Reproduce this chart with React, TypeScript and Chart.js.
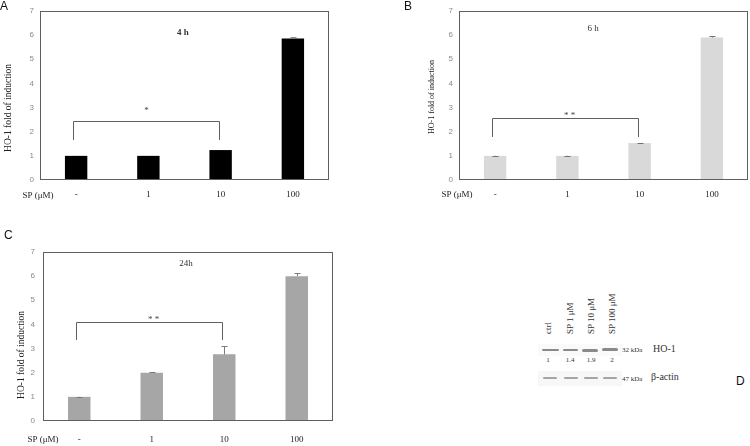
import React, { useEffect, useRef } from 'react';
import { Chart, registerables } from 'chart.js';

Chart.register(...registerables);

// ---------- data ----------
const categories = ['-', '1', '10', '100'];
const xLeadLabel = 'SP (μM)';
const yTitleText = 'HO-1 fold of induction';
const yMin = 0;
const yMax = 7;

const titleA = '4 h';
const valuesA = [1.0, 1.0, 1.24, 5.86];
const errorsA = [0, 0, 0, 0.05];
const sigA = '*';
const bracketA = [2.44, 1.65]; // [top, ends]

const titleB = '6 h';
const valuesB = [1.0, 1.0, 1.53, 5.9];
const errorsB = [0.01, 0.01, 0.02, 0.08];
const sigB = '* *';
const bracketB = [2.57, 1.78];

const titleC = '24h';
const valuesC = [1.0, 2.0, 2.76, 6.0];
const errorsC = [0.01, 0.01, 0.35, 0.13];
const sigC = '* *';
const bracketC = [4.11, 3.35];

const laneLabels = ['ctrl', 'SP 1 μM', 'SP 10 μM', 'SP 100 μM'];
const densities = ['1', '1.4', '1.9', '2'];
const blotTargets = ['HO-1', 'β-actin'];
const blotSizes = ['32 kDa', '47 kDa'];

const SERIF = '"Liberation Serif", "DejaVu Serif", serif';
const SANS = '"Liberation Sans", "DejaVu Sans", sans-serif';

type PanelCfg = {
  key: string;
  left: number;
  top: number;
  width: number;
  height: number;
  padTop: number;
  padRight: number;
  yWidth: number;
  xHeight: number;
  xTickPad: number;
  yTickPad: number;
  color: string;
  errColor: string;
  values: number[];
  errors: number[];
  title: string;
  titleX: number;
  titleY: number;
  titleBold: boolean;
  yTitleX: number;
  yTitleY: number;
  yTitleSize: number;
  leadX: number;
  leadY: number;
  sig: string;
  sigDy: number;
  sigDx: number;
  bracket: number[];
};

const panels: PanelCfg[] = [
  {
    key: 'A', left: 0, top: 0, width: 375, height: 210,
    padTop: 11, padRight: 46, yWidth: 40, xHeight: 30, xTickPad: 9, yTickPad: 6,
    color: '#000000', errColor: '#8a8a8a', values: valuesA, errors: errorsA,
    title: titleA, titleX: 183, titleY: 33, titleBold: true,
    yTitleX: 8, yTitleY: 108, yTitleSize: 9.5, leadX: 38, leadY: 196,
    sig: sigA, sigDy: 13, sigDx: 0, bracket: bracketA,
  },
  {
    key: 'B', left: 375, top: 0, width: 375, height: 210,
    padTop: 11, padRight: 2, yWidth: 84, xHeight: 30, xTickPad: 9, yTickPad: 6,
    color: '#d9d9d9', errColor: '#707070', values: valuesB, errors: errorsB,
    title: titleB, titleX: 218, titleY: 29, titleBold: false,
    yTitleX: 57, yTitleY: 97, yTitleSize: 8, leadX: 82, leadY: 195,
    sig: sigB, sigDy: 5, sigDx: 4, bracket: bracketB,
  },
  {
    key: 'C', left: 0, top: 210, width: 375, height: 236,
    padTop: 42, padRight: 42, yWidth: 43, xHeight: 25, xTickPad: 13, yTickPad: 8,
    color: '#a6a6a6', errColor: '#7a7a7a', values: valuesC, errors: errorsC,
    title: titleC, titleX: 186, titleY: 54, titleBold: false,
    yTitleX: 21, yTitleY: 145, yTitleSize: 9.5, leadX: 43, leadY: 230,
    sig: sigC, sigDy: 5, sigDx: 4, bracket: bracketC,
  },
];

const extrasPlugin = {
  id: 'extras',
  afterDraw(chart: any) {
    const p: PanelCfg = (chart.config as any)._panel;
    if (!p) return;
    const { ctx, chartArea: a, scales } = chart;
    const xs = scales.x;
    const ys = scales.y;
    ctx.save();
    ctx.strokeStyle = '#5f5f5f';
    ctx.lineWidth = 1;
    ctx.strokeRect(Math.round(a.left) + 0.5, Math.round(a.top) + 0.5,
      Math.round(a.right - a.left) - 1, Math.round(a.bottom - a.top) - 1);
    const meta = chart.getDatasetMeta(0);
    ctx.strokeStyle = p.errColor;
    meta.data.forEach((bar: any, i: number) => {
      const e = p.errors[i];
      if (!e) return;
      const base = ys.getPixelForValue(p.values[i]);
      const t = ys.getPixelForValue(p.values[i] + e);
      const cx = Math.round(bar.x) + 0.5;
      ctx.beginPath();
      ctx.moveTo(cx, base);
      ctx.lineTo(cx, Math.round(t) + 0.5);
      ctx.moveTo(cx - 3, Math.round(t) + 0.5);
      ctx.lineTo(cx + 3, Math.round(t) + 0.5);
      ctx.stroke();
    });
    const xl = Math.round(xs.getPixelForValue(0)) - 2.5;
    const xr = Math.round(xs.getPixelForValue(2)) - 1.5;
    const yt = Math.round(ys.getPixelForValue(p.bracket[0])) + 0.5;
    const ye = Math.round(ys.getPixelForValue(p.bracket[1]));
    ctx.strokeStyle = '#5f5f5f';
    ctx.beginPath();
    ctx.moveTo(xl, ye);
    ctx.lineTo(xl, yt);
    ctx.lineTo(xr, yt);
    ctx.lineTo(xr, ye);
    ctx.stroke();
    ctx.fillStyle = '#444';
    ctx.font = `9px ${SERIF}`;
    ctx.textAlign = 'center';
    ctx.textBaseline = 'middle';
    ctx.fillText(p.sig, (xl + xr) / 2 + p.sigDx, yt - p.sigDy + 2);
    ctx.fillStyle = '#333';
    ctx.font = `${p.titleBold ? 'bold ' : ''}9px ${SERIF}`;
    ctx.fillText(p.title, p.titleX, p.titleY);
    ctx.font = `9px ${SERIF}`;
    ctx.fillStyle = '#222';
    ctx.fillText(xLeadLabel, p.leadX, p.leadY);
    ctx.translate(p.yTitleX, p.yTitleY);
    ctx.rotate(-Math.PI / 2);
    ctx.font = `${p.yTitleSize}px ${SERIF}`;
    ctx.fillText(yTitleText, 0, 0);
    ctx.restore();
  },
};

function PanelChart({ p }: { p: PanelCfg }) {
  const ref = useRef<HTMLCanvasElement | null>(null);
  useEffect(() => {
    if (!ref.current) return;
    const chart = new Chart(ref.current, {
      type: 'bar',
      data: {
        labels: categories,
        datasets: [
          {
            data: p.values,
            backgroundColor: p.color,
            borderWidth: 0,
            barPercentage: 0.31,
            categoryPercentage: 1,
          },
        ],
      },
      options: {
        responsive: false,
        animation: false,
        devicePixelRatio: 1,
        layout: { padding: { top: p.padTop, right: p.padRight, left: 0, bottom: 0 } },
        plugins: {
          legend: { display: false },
          tooltip: { enabled: false },
          title: { display: false },
        },
        scales: {
          x: {
            type: 'category',
            grid: { display: false, drawTicks: false },
            border: { display: false },
            ticks: {
              color: '#222',
              font: { family: SERIF, size: 9 },
              padding: p.xTickPad,
              maxRotation: 0,
              autoSkip: false,
            },
            afterFit: (s: any) => { s.height = p.xHeight; },
          },
          y: {
            min: yMin,
            max: yMax,
            grid: { display: false, drawTicks: false },
            border: { display: false },
            ticks: {
              stepSize: 1,
              autoSkip: false,
              color: '#8a8a8a',
              font: { family: SANS, size: 8 },
              padding: p.yTickPad,
            },
            afterFit: (s: any) => { s.width = p.yWidth; },
          },
        },
      },
      plugins: [extrasPlugin],
    } as any);
    (chart.config as any)._panel = p;
    chart.draw();
    return () => chart.destroy();
  }, [p]);
  return (
    <canvas
      ref={ref}
      width={p.width}
      height={p.height}
      style={{ position: 'absolute', left: p.left, top: p.top, width: p.width, height: p.height }}
    />
  );
}

const laneX = [548, 570, 591, 612];
const bandHO = [[542, 559], [563, 578], [582, 598], [602, 618]];
const bandActin = [[543, 557], [564, 578], [584, 598], [603, 617]];

function Blot() {
  const txt = (extra: React.CSSProperties): React.CSSProperties => ({
    position: 'absolute', fontFamily: SERIF, color: '#333', whiteSpace: 'nowrap', lineHeight: '10px', ...extra,
  });
  return (
    <>
      {laneLabels.map((l, i) => (
        <div key={l} style={txt({ left: laneX[i] - 5, top: 334, fontSize: 9, transform: 'rotate(-90deg)', transformOrigin: '0 0' })}>
          {l}
        </div>
      ))}
      <div style={{ position: 'absolute', left: 538, top: 344, width: 84, height: 12, background: '#fafafa' }} />
      <div style={{ position: 'absolute', left: 538, top: 371, width: 84, height: 15, background: '#f7f7f7' }} />
      {bandHO.map((b, i) => (
        <div key={'h' + i} style={{ position: 'absolute', left: b[0], top: 349 - (i === 3 ? 1 : 0), width: b[1] - b[0], height: 2 + (i > 1 ? 1 : 0), background: '#8a8a8a', borderRadius: 2, filter: 'blur(0.6px)' }} />
      ))}
      {bandActin.map((b, i) => (
        <div key={'a' + i} style={{ position: 'absolute', left: b[0], top: 377, width: b[1] - b[0], height: 2, background: '#a5a5a5', borderRadius: 1, filter: 'blur(0.5px)' }} />
      ))}
      {densities.map((d, i) => (
        <div key={'d' + i} style={txt({ left: laneX[i] - 10, width: 20, textAlign: 'center', top: 355, fontSize: 7 })}>{d}</div>
      ))}
      <div style={txt({ left: 622, top: 345, fontSize: 7 })}>{blotSizes[0]}</div>
      <div style={txt({ left: 653, top: 344, fontSize: 10 })}>{blotTargets[0]}</div>
      <div style={txt({ left: 622, top: 374, fontSize: 7 })}>{blotSizes[1]}</div>
      <div style={txt({ left: 651, top: 372, fontSize: 10 })}>{blotTargets[1]}</div>
    </>
  );
}

const letterStyle = (left: number, top: number): React.CSSProperties => ({
  position: 'absolute', left, top, fontFamily: SANS, fontSize: 12, lineHeight: '12px', color: '#111',
});

export default function App() {
  return (
    <div style={{ position: 'fixed', left: 0, top: 0, width: 750, height: 446, background: '#fff', overflow: 'hidden' }}>
      {panels.map((p) => (
        <PanelChart key={p.key} p={p} />
      ))}
      <div style={letterStyle(0, 0)}>A</div>
      <div style={letterStyle(404, 0)}>B</div>
      <div style={letterStyle(4, 229)}>C</div>
      <div style={letterStyle(736, 375)}>D</div>
      <Blot />
    </div>
  );
}
